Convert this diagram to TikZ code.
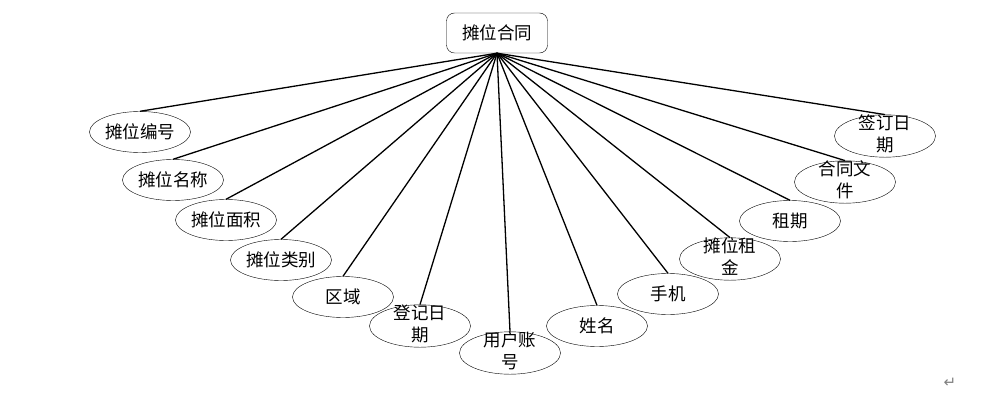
\documentclass[tikz,border=0pt]{standalone}
\usepackage{fontspec}
\newfontfamily\cjk{Noto Sans CJK SC}
\newfontfamily\symfont{DejaVu Sans}
\usetikzlibrary{shapes.geometric}
\begin{document}
\begin{tikzpicture}[x=1pt,y=-1pt]
\tikzstyle{attr}=[ellipse, draw, minimum width=101pt, minimum height=41pt, inner sep=0pt, align=center, font=\cjk\fontsize{17.5}{22}\selectfont]
\tikzstyle{twoline}=[attr, text height=30pt, text depth=-10pt]
\useasboundingbox (0,0) rectangle (998,401);

\node[draw, rounded corners=8pt, minimum width=101pt, minimum height=40pt, font=\cjk\fontsize{17.5}{22}\selectfont] (root) at (497,33) {摊位合同};

\foreach \x/\y/\n/\t in {140/132/bianhao/摊位编号, 173/180/mingcheng/摊位名称,
  226/220/mianji/摊位面积, 281/260/leibie/摊位类别, 343/297/quyu/区域,
  597/326/xingming/姓名, 668/294/shouji/手机, 790/221/zuqi/租期} {
\node[attr] (\n) at (\x,\y) {\t};
\draw[line width=1.3pt] (root.south) -- (\n.north);
}
\foreach \x/\y/\n/\t in {420/326/dengji/登记日\\期, 510/353/zhanghao/用户账\\号,
  730/259/zujin/摊位租\\金, 845/182/wenjian/合同文\\件, 885/136/qianding/签订日\\期} {
\node[twoline] (\n) at (\x,\y) {\t};
\draw[line width=1.3pt] (root.south) -- (\n.north);
}

\node[text=gray, font=\symfont\fontsize{15}{18}\selectfont] (ret) at (950,383) {↵};
\end{tikzpicture}
\end{document}
